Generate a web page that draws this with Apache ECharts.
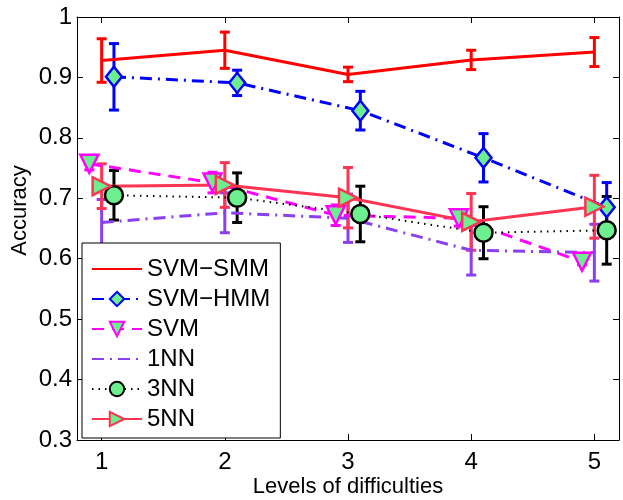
<!DOCTYPE html>
<html>
<head>
<meta charset="utf-8">
<script src="https://cdn.jsdelivr.net/npm/echarts@6/dist/echarts.min.js"></script>
<style>
  html, body { margin: 0; padding: 0; background: #fff; }
  #chart { width: 623px; height: 500px; }
</style>
</head>
<body>
<div id="chart"></div>
<script>
const levels = [1, 2, 3, 4, 5];
const seriesNames = ['SVM−SMM', 'SVM−HMM', 'SVM', '1NN', '3NN', '5NN'];

const svmSmm = [0.928, 0.945, 0.905, 0.929, 0.942];
const svmSmmErr = [0.036, 0.030, 0.012, 0.016, 0.024];
const svmHmm = [0.901, 0.891, 0.845, 0.767, 0.685];
const svmHmmErr = [0.055, 0.021, 0.032, 0.040, 0.041];
const svm = [0.757, 0.726, 0.672, 0.667, 0.595];
const svmErr = [0.010, 0.017, 0.017, 0.013, 0.005];
const nn1 = [0.660, 0.676, 0.667, 0.614, 0.610];
const nn1Err = [0.038, 0.033, 0.040, 0.041, 0.047];
const nn3 = [0.705, 0.701, 0.674, 0.643, 0.647];
const nn3Err = [0.041, 0.041, 0.046, 0.043, 0.056];
const nn5 = [0.720, 0.722, 0.701, 0.661, 0.686];
const nn5Err = [0.037, 0.037, 0.050, 0.047, 0.052];

const FONT = 'Liberation Sans';
const FILL = '#6cf08f';

const chart = echarts.init(document.getElementById('chart'));

// error bar with caps, drawn as a custom series
const errorBar = (color, offset, vals, errs) => ({
  type: 'custom',
  silent: true,
  data: levels.map((x, i) => [x + offset, vals[i] - errs[i], vals[i] + errs[i]]),
  encode: { x: 0, y: [1, 2] },
  renderItem: (params, api) => {
    const lo = api.coord([api.value(0), api.value(1)]);
    const hi = api.coord([api.value(0), api.value(2)]);
    const w = 5;
    const style = { stroke: color, lineWidth: 3 };
    return {
      type: 'group',
      children: [
        { type: 'line', shape: { x1: lo[0], y1: lo[1], x2: hi[0], y2: hi[1] }, style },
        { type: 'line', shape: { x1: lo[0] - w, y1: lo[1], x2: lo[0] + w, y2: lo[1] }, style },
        { type: 'line', shape: { x1: hi[0] - w, y1: hi[1], x2: hi[0] + w, y2: hi[1] }, style },
      ],
    };
  },
});

const lineSerie = (name, color, offset, vals, lineType, width, symbol, symbolSize, rotate) => ({
  name,
  type: 'line',
  data: levels.map((x, i) => [x + offset, vals[i]]),
  symbol: symbol || 'none',
  symbolSize: symbolSize || 0,
  symbolRotate: rotate || 0,
  showSymbol: !!symbol,
  lineStyle: { color, width, type: lineType },
  // no marker -> hide the legend dot too
  itemStyle: symbol
    ? { color: FILL, borderColor: color, borderWidth: 2.5 }
    : { color: 'rgba(0,0,0,0)', borderColor: 'rgba(0,0,0,0)', borderWidth: 0 },
  z: 3,
});

const defs = [
  [seriesNames[0], '#ff0000', 0, svmSmm, svmSmmErr, 'solid', 3, null, 0, 0],
  [seriesNames[1], '#0000ff', 0.1, svmHmm, svmHmmErr, [12, 6, 2, 6], 3, 'diamond', [16, 20], 0],
  [seriesNames[2], '#ff00ff', -0.1, svm, svmErr, [12, 8], 3, 'triangle', 18, 180],
  [seriesNames[3], '#8a3ff0', 0, nn1, nn1Err, [12, 6, 2, 6], 3, null, 0, 0],
  [seriesNames[4], '#000000', 0.1, nn3, nn3Err, [1.5, 5], 2, 'circle', 18, 0],
  [seriesNames[5], '#ff3352', 0, nn5, nn5Err, 'solid', 3, 'triangle', 18, -90],
];

const series = [];
defs.forEach(d => {
  series.push(errorBar(d[1], d[2], d[3], d[4]));
  series.push(lineSerie(d[0], d[1], d[2], d[3], d[5], d[6], d[7], d[8], d[9]));
});

const axisLine = { show: true, lineStyle: { color: '#000', width: 1 } };
const axisTick = { show: true, inside: true, length: 6, lineStyle: { color: '#000' } };

chart.setOption({
  animation: false,
  textStyle: { fontFamily: FONT },
  grid: { left: 77, right: 4, top: 17, bottom: 60, outerBoundsMode: 'none' },
  legend: {
    data: seriesNames,
    orient: 'vertical',
    left: 82,
    top: 243,
    width: 189,
    padding: [14, 10, 7, 9],
    itemWidth: 50,
    itemHeight: 18,
    itemGap: 6,
    borderColor: '#000',
    borderWidth: 1,
    backgroundColor: '#fff',
    textStyle: { fontFamily: FONT, fontSize: 24, color: '#000' },
  },
  xAxis: [
    {
      type: 'value',
      min: 0.8,
      max: 5.2,
      name: 'Levels of difficulties',
      nameLocation: 'middle',
      nameGap: 36,
      nameMoveOverlap: false,
      nameTextStyle: { fontFamily: FONT, fontSize: 22, color: '#000' },
      axisLine,
      axisTick: { ...axisTick, customValues: levels },
      axisLabel: { customValues: levels, fontSize: 24, color: '#000', margin: 10 },
      splitLine: { show: false },
    },
    {
      type: 'value',
      position: 'top',
      min: 0.8,
      max: 5.2,
      axisLine,
      axisTick: { ...axisTick, customValues: levels },
      axisLabel: { show: false },
      splitLine: { show: false },
    },
  ],
  yAxis: [
    {
      type: 'value',
      min: 0.3,
      max: 1,
      interval: 0.1,
      name: 'Accuracy',
      nameLocation: 'middle',
      nameGap: 46,
      nameMoveOverlap: false,
      nameTextStyle: { fontFamily: FONT, fontSize: 22, color: '#000', padding: [0, 0, 0, 36] },
      axisLine,
      axisTick,
      axisLabel: {
        fontSize: 24,
        color: '#000',
        margin: 5,
        formatter: v => String(+v.toFixed(1)),
      },
      splitLine: { show: false },
    },
    {
      type: 'value',
      position: 'right',
      min: 0.3,
      max: 1,
      interval: 0.1,
      axisLine,
      axisTick,
      axisLabel: { show: false },
      splitLine: { show: false },
    },
  ],
  series,
});
</script>
</body>
</html>
